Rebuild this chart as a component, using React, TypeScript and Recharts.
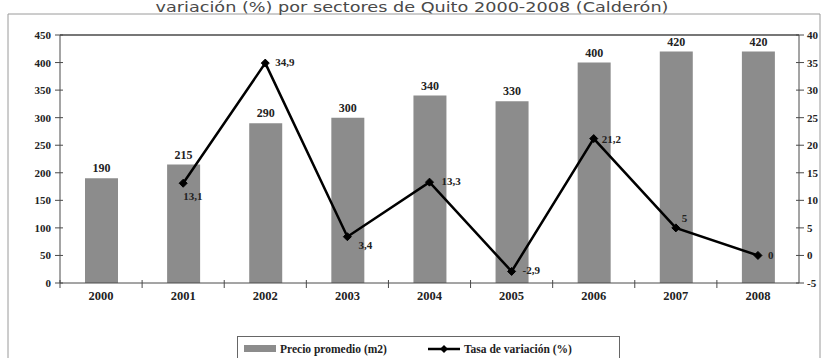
import React from "react";
import {
  ComposedChart,
  Bar,
  Line,
  XAxis,
  YAxis,
  LabelList,
  ReferenceLine,
} from "recharts";

const years = ["2000", "2001", "2002", "2003", "2004", "2005", "2006", "2007", "2008"];
const precio = [190, 215, 290, 300, 340, 330, 400, 420, 420];
const tasa: (number | null)[] = [null, 13.1, 34.9, 3.4, 13.3, -2.9, 21.2, 5, 0];
const leftTicks = [0, 50, 100, 150, 200, 250, 300, 350, 400, 450];
const rightTicks = [-5, 0, 5, 10, 15, 20, 25, 30, 35, 40];
const titleText = "variación (%) por sectores de Quito 2000-2008 (Calderón)";
const barName = "Precio promedio (m2)";
const lineName = "Tasa de variación (%)";

const data = years.map((y, i) => ({ year: y, precio: precio[i], tasa: tasa[i] }));

// label placement offsets for the line value labels (style only)
const lineLabelOffsets: Record<string, [number, number, string]> = {
  "2001": [0, 13, "start"],
  "2002": [10, -1, "start"],
  "2003": [11, 8, "start"],
  "2004": [12, -1, "start"],
  "2005": [11, -1, "start"],
  "2006": [8, 0, "start"],
  "2007": [6, -10, "start"],
  "2008": [10, 0, "start"],
};

const W = 825;
const H = 358;
const PLOT_LEFT = 60;
const PLOT_RIGHT = 799;
const BAND = (PLOT_RIGHT - PLOT_LEFT) / years.length;
const SERIF = "'Liberation Serif', 'Times New Roman', serif";
const AXIS_COLOR = "#4a4a4a";
const TEXT_COLOR = "#222";
const BAR_COLOR = "#8c8c8c";

const fmt = (v: number) => String(v).replace(".", ",");

const LeftTick = (props: any) => {
  const { x, y, payload } = props;
  return (
    <g>
      <line x1={x - 5} x2={x + 3} y1={y} y2={y} stroke={AXIS_COLOR} strokeWidth={1} />
      <text x={x - 9} y={y} dy={4} textAnchor="end" fontFamily={SERIF} fontWeight="bold" fontSize={11} fill={TEXT_COLOR}>
        {payload.value}
      </text>
    </g>
  );
};

const RightTick = (props: any) => {
  const { x, y, payload } = props;
  return (
    <g>
      <line x1={x - 3} x2={x + 5} y1={y} y2={y} stroke={AXIS_COLOR} strokeWidth={1} />
      <text x={x + 8} y={y} dy={4} textAnchor="start" fontFamily={SERIF} fontWeight="bold" fontSize={11} fill={TEXT_COLOR}>
        {payload.value}
      </text>
    </g>
  );
};

const XTick = (props: any) => {
  const { x, y, payload, index } = props;
  const bx = x + BAND / 2;
  return (
    <g>
      {index < years.length - 1 && (
        <line x1={bx} x2={bx} y1={y - 3} y2={y + 5} stroke={AXIS_COLOR} strokeWidth={1} />
      )}
      {index === 0 && (
        <line x1={x - BAND / 2} x2={x - BAND / 2} y1={y - 3} y2={y + 5} stroke={AXIS_COLOR} strokeWidth={1} />
      )}
      <text x={x} y={y + 17} textAnchor="middle" fontFamily={SERIF} fontWeight="bold" fontSize={12.5} fill={TEXT_COLOR}>
        {payload.value}
      </text>
    </g>
  );
};

const Diamond = (props: any) => {
  const { cx, cy, payload } = props;
  if (payload == null || payload.tasa == null || cx == null || cy == null) return <g />;
  const s = 4;
  return <polygon points={`${cx},${cy - s} ${cx + s},${cy} ${cx},${cy + s} ${cx - s},${cy}`} fill="#000" stroke="#000" />;
};

const LineLabel = (props: any) => {
  const { x, y, value, index } = props;
  if (value == null || x == null || y == null) return null;
  const yr = years[index];
  const off = lineLabelOffsets[yr] || [8, 0, "start"];
  return (
    <text x={x + off[0]} y={y + off[1]} dy={4} textAnchor={off[2] as any} fontFamily={SERIF} fontWeight="bold" fontSize={11} fill={TEXT_COLOR}>
      {fmt(value)}
    </text>
  );
};

export default function App() {
  return (
    <div style={{ position: "absolute", left: 0, top: 0, width: W, height: H, overflow: "hidden", background: "#fff" }}>
      <svg width={W} height={H} style={{ position: "absolute", left: 0, top: 0 }}>
        <path d={`M8,${H + 5} L8,14 L820,14 L820,${H + 5}`} fill="none" stroke="#9a9a9a" strokeWidth={1} />
        <text
          x={412}
          y={12}
          textAnchor="middle"
          fontFamily="'DejaVu Sans', 'Liberation Sans', sans-serif"
          fontSize={14}
          fill="#4a4a4a"
          textLength={513}
          lengthAdjust="spacingAndGlyphs"
        >
          {titleText}
        </text>
      </svg>
      <div style={{ position: "absolute", left: 0, top: 0 }}>
        <ComposedChart width={W} height={H} data={data} margin={{ top: 35, right: 0, bottom: 45, left: 0 }} barCategoryGap="0%">
          <XAxis
            dataKey="year"
            xAxisId="x"
            height={30}
            stroke={AXIS_COLOR}
            tickLine={false}
            tickSize={0}
            tickMargin={0}
            tick={<XTick />}
            interval={0}
          />
          <YAxis
            yAxisId="left"
            orientation="left"
            width={60}
            domain={[0, 450]}
            ticks={leftTicks}
            stroke={AXIS_COLOR}
            tickLine={false}
            tickSize={0}
            tickMargin={0}
            tick={<LeftTick />}
            interval={0}
          />
          <YAxis
            yAxisId="right"
            orientation="right"
            width={26}
            domain={[-5, 40]}
            ticks={rightTicks}
            stroke={AXIS_COLOR}
            tickLine={false}
            tickSize={0}
            tickMargin={0}
            tick={<RightTick />}
            interval={0}
          />
          <ReferenceLine xAxisId="x" yAxisId="left" y={450} stroke={AXIS_COLOR} strokeWidth={1.5} />
          <Bar xAxisId="x" yAxisId="left" dataKey="precio" fill={BAR_COLOR} barSize={33} isAnimationActive={false}>
            <LabelList
              dataKey="precio"
              position="top"
              offset={6}
              style={{ fontFamily: SERIF, fontWeight: "bold", fontSize: 12, fill: TEXT_COLOR }}
            />
          </Bar>
          <Line
            xAxisId="x"
            yAxisId="right"
            dataKey="tasa"
            stroke="#000"
            strokeWidth={2.5}
            dot={<Diamond />}
            activeDot={false}
            isAnimationActive={false}
          >
            <LabelList dataKey="tasa" content={<LineLabel />} />
          </Line>
        </ComposedChart>
      </div>
      <div
        style={{
          position: "absolute",
          left: 237,
          top: 336,
          width: 383,
          height: 40,
          border: "1px solid #666",
          boxSizing: "border-box",
          background: "#fff",
        }}
      >
        <svg width={383} height={24} style={{ position: "absolute", left: 0, top: 0 }}>
          <rect x={6} y={8} width={32} height={7} fill={BAR_COLOR} />
          <text x={42} y={16} fontFamily={SERIF} fontWeight="bold" fontSize={11.5} fill={TEXT_COLOR}>
            {barName}
          </text>
          <line x1={190} x2={222} y1={12} y2={12} stroke="#000" strokeWidth={2.5} />
          <polygon points="206,8 210,12 206,16 202,12" fill="#000" />
          <text x={226} y={16} fontFamily={SERIF} fontWeight="bold" fontSize={11.5} fill={TEXT_COLOR}>
            {lineName}
          </text>
        </svg>
      </div>
    </div>
  );
}
